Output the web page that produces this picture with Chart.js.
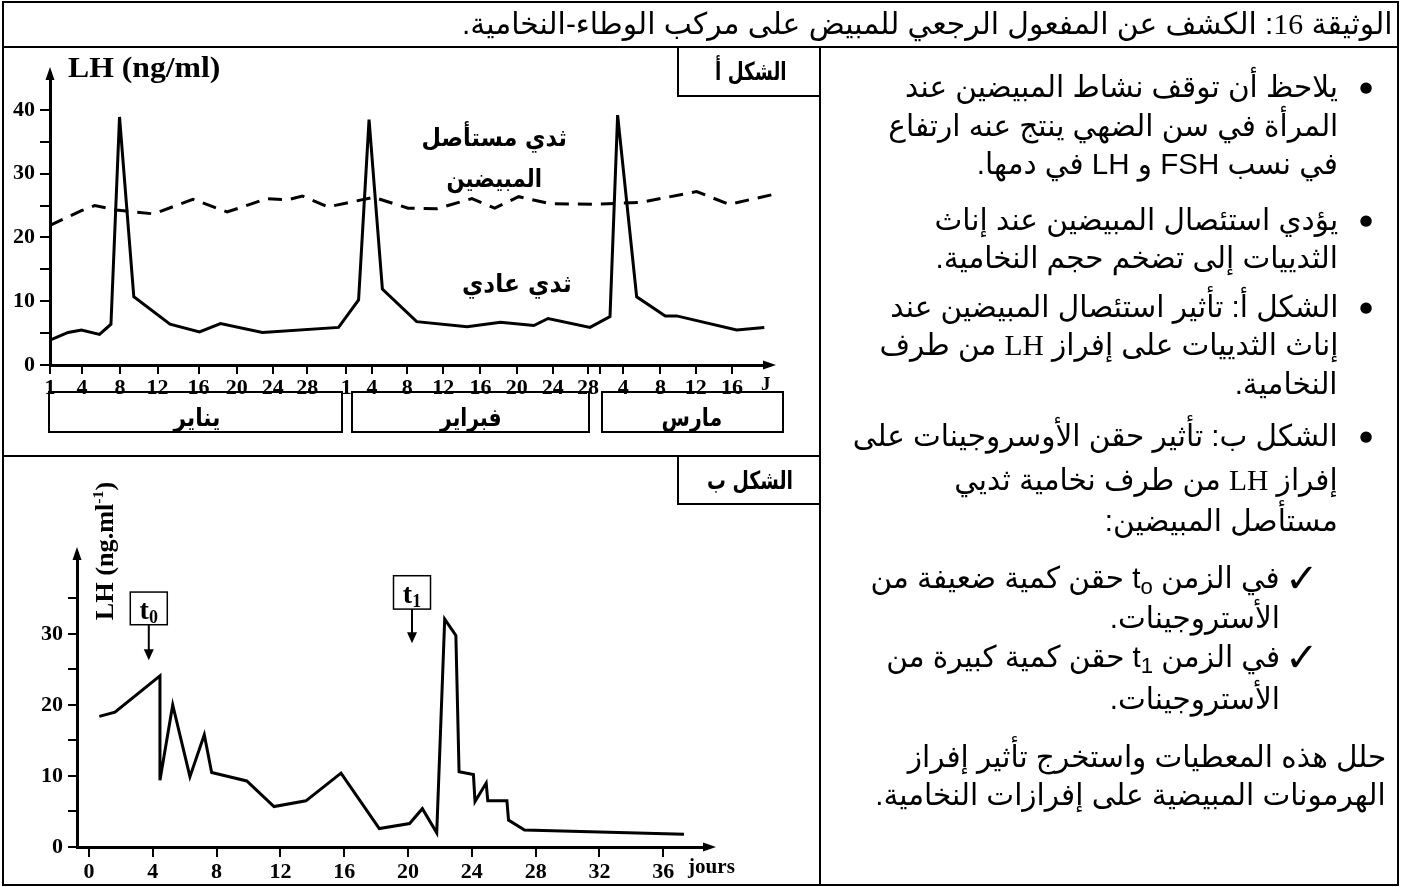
<!DOCTYPE html>
<html lang="ar">
<head>
<meta charset="utf-8">
<script src="https://cdn.jsdelivr.net/npm/chart.js@4.4.1/dist/chart.umd.min.js"></script>
<style>
  body { margin: 0; background: #fff; }
  #page { position: relative; width: 1405px; height: 887px; overflow: hidden; color: #000;
          font-family: "Liberation Sans", "DejaVu Sans", sans-serif; }
  .ln { position: absolute; background: #000; }
  .box { position: absolute; border: 2px solid #000; box-sizing: border-box; }
  .t { position: absolute; white-space: nowrap; line-height: 1; }
  .lh { font-family: "Liberation Serif", serif; }
  sub { font-size: 0.75em; line-height: 0; vertical-align: -0.25em; }
  sup { font-size: 0.6em; line-height: 0; vertical-align: 0.6em; }
  canvas { position: absolute; }
</style>
</head>
<body>
<div id="page">
  <canvas id="chartA" width="820" height="409" style="left:0;top:47px"></canvas>
  <canvas id="chartB" width="820" height="429" style="left:0;top:456px"></canvas>

  <!-- cadre -->
  <div class="box" style="left:2px;top:1px;width:1397px;height:885px"></div>
  <div class="ln" style="left:2px;top:46px;width:1397px;height:2px"></div>
  <div class="ln" style="left:819px;top:46px;width:2px;height:840px"></div>
  <div class="ln" style="left:2px;top:455px;width:818px;height:2px"></div>

  <!-- cases -->
  <div class="box" style="left:677px;top:46px;width:144px;height:51px"></div>
  <div class="box" style="left:677px;top:455px;width:144px;height:50px"></div>
  <div class="box" style="left:48px;top:391px;width:295px;height:42px"></div>
  <div class="box" style="left:351px;top:391px;width:239px;height:42px"></div>
  <div class="box" style="left:601px;top:391px;width:183px;height:42px"></div>
</div>

<script>
// Figure A : jours (échelle de la figure) et LH
const tickPosA = [1, 4.36, 8.35, 12.3, 16.6, 20.6, 24.4, 28, 32.1, 34.8, 38.5, 42.3, 46.2, 50, 53.8, 57.5, 58.8, 61.2, 65.1, 68.8, 72.6];
const tickLabelsA = ['1', '4', '8', '12', '16', '20', '24', '28', '1', '4', '8', '12', '16', '20', '24', '28', '', '4', '8', '12', '16'];
const yTicksA = [0, 5, 10, 15, 20, 25, 30, 35, 40];

const daysNormal = [1, 2.9, 4.3, 6.2, 7.4, 8.3, 9.8, 13.6, 16.7, 18.9, 23.3, 31.3, 33.4, 34.5, 35.9, 39.5, 44.8, 48.3, 51.8, 53.3, 57.7, 59.8, 60.6, 62.6, 65.6, 66.8, 73.1, 76.0];
const lhNormal = [3.9, 5.1, 5.5, 4.8, 6.4, 38.9, 10.7, 6.4, 5.2, 6.5, 5.1, 5.9, 10.2, 38.5, 11.9, 6.8, 6.0, 6.7, 6.2, 7.3, 5.9, 7.6, 39.2, 10.7, 7.7, 7.7, 5.5, 5.9];

const daysOvx = [1, 4.3, 5.7, 8.0, 11.9, 16.0, 19.6, 23.8, 25.9, 27.5, 30.2, 35.0, 38.6, 41.6, 45.3, 47.7, 50.2, 53.5, 58.1, 63, 68.9, 72.3, 76.8];
const lhOvx = [21.9, 24.2, 25.0, 24.3, 23.7, 26.0, 24.0, 26.1, 25.9, 26.5, 24.8, 26.3, 24.6, 24.5, 26.1, 24.6, 26.4, 25.3, 25.2, 25.5, 27.2, 25.2, 26.7];

// Figure B
const tickPosB = [0, 4, 8, 12, 16, 20, 24, 28, 32, 36];
const yTicksB = [0, 5, 10, 15, 20, 25, 30, 35];
const daysB = [0.65, 1.63, 4.45, 4.45, 5.25, 6.33, 7.23, 7.69, 9.89, 11.6, 13.6, 15.8, 18.2, 20.1, 20.9, 21.8, 22.3, 23.0, 23.2, 24.1, 24.2, 24.9, 25.0, 26.2, 26.3, 27.3, 37.3];
const lhB = [18.4, 19.0, 24.1, 9.4, 20.0, 9.9, 15.8, 10.5, 9.3, 5.7, 6.5, 10.4, 2.6, 3.3, 5.4, 2.0, 32.1, 29.8, 10.6, 10.2, 6.4, 9.0, 6.5, 6.5, 3.8, 2.4, 1.8];

// injections t0 / t1
const markerNames = ['0', '1'];
const markerX = [3.75, 20.25];
const markerBoxTop = [35.9, 38.2];
const markerBoxBottom = [31.3, 33.5];
const markerArrowEnd = [26.3, 28.7];

const page = document.getElementById('page');

function place(html, x, y, o) {
  o = o || {};
  const el = document.createElement('span');
  el.className = 't';
  el.innerHTML = html;
  if (o.font) el.style.font = o.font;
  el.style.lineHeight = '1';
  if (o.dir) el.dir = o.dir;
  page.appendChild(el);
  const w = el.offsetWidth, h = el.offsetHeight;
  const anchor = o.anchor || 'c';
  const s = o.w ? o.w / w : (o.k || 1);
  let left = x - w / 2;
  if (anchor === 'r') left = x - w;
  if (anchor === 'l') left = x;
  el.style.left = left + 'px';
  el.style.top = (y - h / 2) + 'px';
  el.style.transformOrigin = anchor === 'r' ? 'right center' : anchor === 'l' ? 'left center' : 'center center';
  let tr = s !== 1 ? 'scaleX(' + s + ')' : '';
  if (o.rot) tr = 'rotate(' + o.rot + 'deg) ' + tr;
  if (tr) el.style.transform = tr;
  return { el: el, w: w, s: s };
}

const axisArrows = {
  id: 'axisArrows',
  afterDraw(chart) {
    const { ctx, chartArea: a } = chart;
    ctx.save();
    ctx.fillStyle = '#000';
    ctx.beginPath();
    ctx.moveTo(a.left, a.top - 6);
    ctx.lineTo(a.left - 4.5, a.top + 7);
    ctx.lineTo(a.left + 4.5, a.top + 7);
    ctx.closePath();
    ctx.fill();
    ctx.beginPath();
    ctx.moveTo(a.right + 6, a.bottom);
    ctx.lineTo(a.right - 7, a.bottom - 4.5);
    ctx.lineTo(a.right - 7, a.bottom + 4.5);
    ctx.closePath();
    ctx.fill();
    ctx.restore();
  }
};

const injectMarks = {
  id: 'injectMarks',
  afterDatasetsDraw(chart) {
    const { ctx } = chart;
    const x = chart.scales.x, y = chart.scales.y;
    markerX.forEach((mx, i) => {
      const px = x.getPixelForValue(mx);
      const top = y.getPixelForValue(markerBoxTop[i]);
      const bot = y.getPixelForValue(markerBoxBottom[i]);
      const end = y.getPixelForValue(markerArrowEnd[i]);
      const hw = 18.5;
      ctx.save();
      ctx.strokeStyle = '#000';
      ctx.fillStyle = '#000';
      ctx.lineWidth = 1.5;
      ctx.strokeRect(px - hw, top, hw * 2, bot - top);
      ctx.font = 'bold 28px "Liberation Serif"';
      const tw = ctx.measureText('t').width;
      ctx.font = 'bold 18px "Liberation Serif"';
      const sw = ctx.measureText(markerNames[i]).width;
      const sx = px - (tw + sw) / 2;
      const base = bot - 6;
      ctx.font = 'bold 28px "Liberation Serif"';
      ctx.fillText('t', sx, base);
      ctx.font = 'bold 18px "Liberation Serif"';
      ctx.fillText(markerNames[i], sx + tw, base + 4);
      ctx.lineWidth = 2;
      ctx.beginPath();
      ctx.moveTo(px, bot);
      ctx.lineTo(px, end - 8);
      ctx.stroke();
      ctx.beginPath();
      ctx.moveTo(px, end);
      ctx.lineTo(px - 5, end - 11);
      ctx.lineTo(px + 5, end - 11);
      ctx.closePath();
      ctx.fill();
      ctx.restore();
    });
  }
};

function tickFont(size) {
  return { family: 'Liberation Serif', weight: 'bold', size: size };
}

function points(xs, ys) {
  return xs.map((v, i) => ({ x: v, y: ys[i] }));
}

new Chart(document.getElementById('chartA'), {
  type: 'line',
  data: {
    datasets: [
      { data: points(daysNormal, lhNormal), borderColor: '#000', borderWidth: 3, pointRadius: 0, tension: 0, clip: false },
      { data: points(daysOvx, lhOvx), borderColor: '#000', borderWidth: 3, borderDash: [14, 9], pointRadius: 0, tension: 0, clip: false }
    ]
  },
  options: {
    responsive: false,
    devicePixelRatio: 1,
    animation: false,
    events: [],
    layout: { padding: { left: 0, top: 26, right: 50, bottom: 0 } },
    plugins: { legend: { display: false }, tooltip: { enabled: false } },
    scales: {
      x: {
        type: 'linear', min: 1, max: 76.6,
        afterBuildTicks: s => { s.ticks = tickPosA.map(v => ({ value: v })); },
        afterFit: s => { s.height = 91; },
        ticks: { autoSkip: false, maxRotation: 0, padding: 1, color: '#000', font: tickFont(22),
                 callback: (v, i) => tickLabelsA[i] },
        grid: { drawOnChartArea: false, tickLength: 9, color: '#000', lineWidth: 2 },
        border: { color: '#000', width: 3 }
      },
      y: {
        min: 0, max: 45.8,
        afterBuildTicks: s => { s.ticks = yTicksA.map(v => ({ value: v })); },
        afterFit: s => { s.width = 50; },
        ticks: { padding: 5, color: '#000', font: tickFont(22),
                 callback: v => (v % 10 === 0 ? String(v) : '') },
        grid: { drawOnChartArea: false, tickLength: 10, color: '#000', lineWidth: 2 },
        border: { color: '#000', width: 3 }
      }
    }
  },
  plugins: [axisArrows]
});

new Chart(document.getElementById('chartB'), {
  type: 'line',
  data: {
    datasets: [
      { data: points(daysB, lhB), borderColor: '#000', borderWidth: 3, pointRadius: 0, tension: 0, clip: false }
    ]
  },
  options: {
    responsive: false,
    devicePixelRatio: 1,
    animation: false,
    events: [],
    layout: { padding: { left: 0, top: 97, right: 110, bottom: 0 } },
    plugins: { legend: { display: false }, tooltip: { enabled: false } },
    scales: {
      x: {
        type: 'linear', min: -0.75, max: 38.93,
        afterBuildTicks: s => { s.ticks = tickPosB.map(v => ({ value: v })); },
        afterFit: s => { s.height = 38; },
        ticks: { autoSkip: false, maxRotation: 0, padding: 2, color: '#000', font: tickFont(22),
                 callback: v => String(v) },
        grid: { drawOnChartArea: false, tickLength: 10, color: '#000', lineWidth: 2 },
        border: { color: '#000', width: 3 }
      },
      y: {
        min: 0, max: 41.4,
        afterBuildTicks: s => { s.ticks = yTicksB.map(v => ({ value: v })); },
        afterFit: s => { s.width = 77; },
        ticks: { padding: 5, color: '#000', font: tickFont(22),
                 callback: v => (v % 10 === 0 ? String(v) : '') },
        grid: { drawOnChartArea: false, tickLength: 9, color: '#000', lineWidth: 2 },
        border: { color: '#000', width: 3 }
      }
    }
  },
  plugins: [axisArrows, injectMarks]
});

// textes des figures
const AR_B = 'bold 25px "DejaVu Sans"';
const SERIF_B = '"Liberation Serif"';
place('LH (ng/ml)', 68, 67, { anchor: 'l', font: 'bold 29px ' + SERIF_B, w: 152 });
place('J', 766, 383, { font: 'bold 19px ' + SERIF_B });
place('jours', 688, 866, { anchor: 'l', font: 'bold 22px ' + SERIF_B, w: 47 });
place('LH (ng.ml<sup>-1</sup>)', 104, 551, { font: 'bold 26px ' + SERIF_B, w: 138, rot: -90 });

place('الشكل أ', 751, 71, { font: AR_B, w: 72, dir: 'rtl' });
place('الشكل ب', 750, 480, { font: AR_B, w: 86, dir: 'rtl' });
place('ثدي مستأصل', 494, 137, { font: AR_B, w: 145, dir: 'rtl' });
place('المبيضين', 494, 178, { font: AR_B, w: 95, dir: 'rtl' });
place('ثدي عادي', 517, 283, { font: AR_B, w: 110, dir: 'rtl' });
place('يناير', 197, 417, { font: AR_B, w: 47, dir: 'rtl' });
place('فبراير', 471, 417, { font: AR_B, w: 62, dir: 'rtl' });
place('مارس', 692, 417, { font: AR_B, w: 61, dir: 'rtl' });

// titre
place('الوثيقة <span class="lh">16</span>: الكشف عن المفعول الرجعي للمبيض على مركب الوطاء-النخامية.',
      1393, 24, { anchor: 'r', font: '30px "Liberation Sans", "DejaVu Sans"', w: 931, dir: 'rtl' });

// texte de droite
const F = '30px "Liberation Sans", "DejaVu Sans"';
const first = place('يلاحظ أن توقف نشاط المبيضين عند', 1338, 87, { anchor: 'r', font: F, w: 433, dir: 'rtl' });
const k = first.s;
const rows = [
  [126, 1338, 'المرأة في سن الضهي ينتج عنه ارتفاع'],
  [164, 1338, 'في نسب FSH و LH في دمها.'],
  [220, 1338, 'يؤدي استئصال المبيضين عند إناث'],
  [258, 1338, 'الثدييات إلى تضخم حجم النخامية.'],
  [307, 1338, 'الشكل أ: تأثير استئصال المبيضين عند'],
  [345, 1338, 'إناث الثدييات على إفراز <span class="lh">LH</span> من طرف'],
  [384, 1338, 'النخامية.'],
  [436, 1338, 'الشكل ب: تأثير حقن الأوسروجينات على'],
  [480, 1338, 'إفراز <span class="lh">LH</span> من طرف نخامية ثديي'],
  [521, 1338, 'مستأصل المبيضين:'],
  [578, 1280, 'في الزمن t<sub>o</sub> حقن كمية ضعيفة من'],
  [618, 1280, 'الأستروجينات.'],
  [657, 1280, 'في الزمن t<sub>1</sub> حقن كمية كبيرة من'],
  [699, 1280, 'الأستروجينات.'],
  [757, 1386, 'حلل هذه المعطيات واستخرج تأثير إفراز'],
  [795, 1386, 'الهرمونات المبيضية على إفرازات النخامية.']
];
rows.forEach(r => place(r[2], r[1], r[0], { anchor: 'r', font: F, k: k, dir: 'rtl' }));

[87, 220, 307, 436].forEach(y => place('●', 1366, y, { font: '15px "DejaVu Sans"' }));
[578, 657].forEach(y => place('✓', 1302, y, { font: '40px "DejaVu Sans"' }));
</script>
</body>
</html>
